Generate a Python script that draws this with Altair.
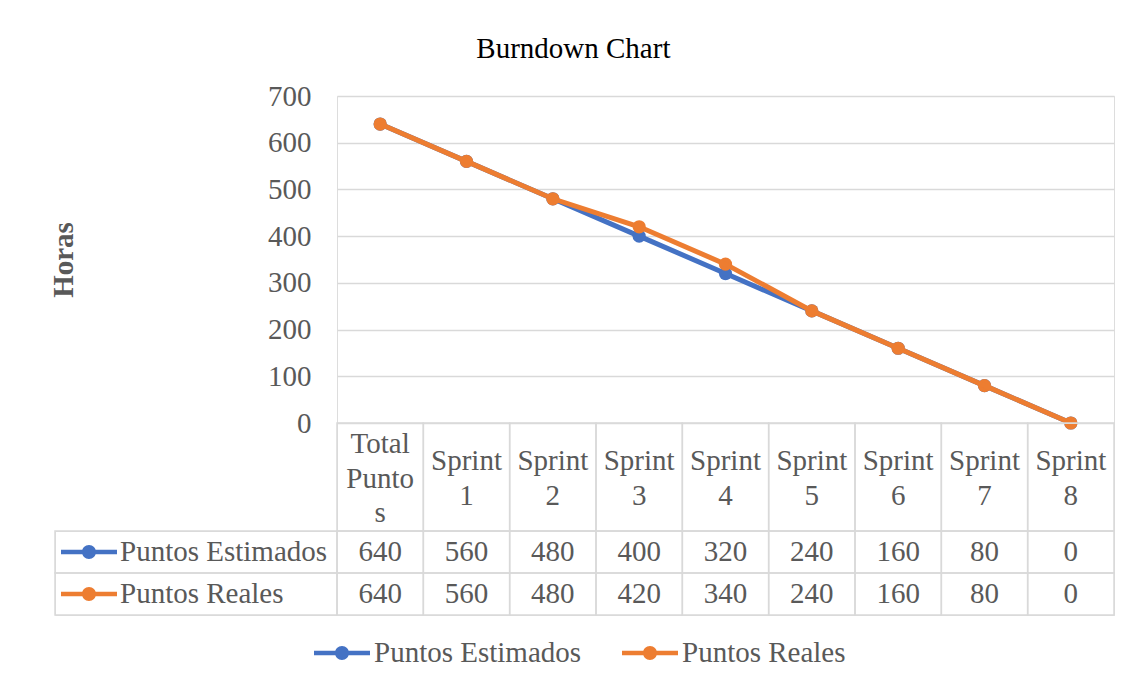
import altair as alt
import pandas as pd

# ---------------- data ----------------
categories = ["Total Puntos", "Sprint 1", "Sprint 2", "Sprint 3", "Sprint 4",
              "Sprint 5", "Sprint 6", "Sprint 7", "Sprint 8"]
header_labels = ["Total\nPunto\ns", "Sprint\n1", "Sprint\n2", "Sprint\n3", "Sprint\n4",
                 "Sprint\n5", "Sprint\n6", "Sprint\n7", "Sprint\n8"]
estimados = [640, 560, 480, 400, 320, 240, 160, 80, 0]
reales = [640, 560, 480, 420, 340, 240, 160, 80, 0]
series_names = ["Puntos Estimados", "Puntos Reales"]
series_colors = ["#4472C4", "#ED7D31"]
y_ticks = [0, 100, 200, 300, 400, 500, 600, 700]

records = []
for name, vals in zip(series_names, [estimados, reales]):
    for c, v in zip(categories, vals):
        records.append({"cat": c, "serie": name, "valor": v})
df = pd.DataFrame(records)
hdr = pd.DataFrame({"cat": categories, "label": header_labels})
ser = pd.DataFrame({"serie": series_names})

# ---------------- style ----------------
FONT = "Liberation Serif"
GRAY = "#595959"
GRID = "#d9d9d9"
FS = 29
LH = 34.5
PLOT_W, PLOT_H = 777, 327
LEG_W = 282
HDR_H = 108
ROWS_H = 84
# line-with-marker symbol (filled bar + circle), unit coordinates
SYM = ("M-1,-0.08L1,-0.08L1,0.08L-1,0.08Z "
       "M0.25,0C0.25,0.138 0.138,0.25 0,0.25C-0.138,0.25 -0.25,0.138 -0.25,0"
       "C-0.25,-0.138 -0.138,-0.25 0,-0.25C0.138,-0.25 0.25,-0.138 0.25,0Z")

color_scale = alt.Scale(domain=series_names, range=series_colors)

legend = alt.Legend(
    orient="none", legendX=259, legendY=529, direction="horizontal", title=None,
    symbolType=SYM, symbolSize=3136, symbolStrokeWidth=0, symbolOpacity=1,
    labelFont=FONT, labelFontSize=FS, labelColor=GRAY, labelOffset=4,
    columnPadding=40, padding=0, labelLimit=400,
)
color_enc = alt.Color("serie:N", sort=series_names, scale=color_scale, legend=legend)

x_plot = alt.X("cat:N", sort=categories, scale=alt.Scale(type="point", padding=0.5), axis=None)
y_plot = alt.Y("valor:Q", scale=alt.Scale(domain=[0, 700], nice=False),
               axis=alt.Axis(values=y_ticks, title="Horas", titleFont=FONT, titleFontSize=FS,
                             titleFontWeight="bold", titleColor=GRAY, titleX=-265, titleY=163.5,
                             titleBaseline="alphabetic", titleAngle=270,
                             labelFont=FONT, labelFontSize=FS, labelColor=GRAY, labelPadding=26,
                             ticks=False, domain=False, grid=True, gridColor=GRID, gridWidth=1.5))

plot_layers = []
for name in series_names:
    b = alt.Chart(df).transform_filter(alt.datum.serie == name).encode(
        x=x_plot, y=y_plot, color=color_enc)
    plot_layers.append(b.mark_point(filled=True, size=175, opacity=1))
    plot_layers.append(b.mark_line(strokeWidth=5))
plot = alt.layer(*plot_layers).properties(width=PLOT_W, height=PLOT_H)

# ---------------- data table ----------------
x_band = alt.X("cat:N", sort=categories,
               scale=alt.Scale(type="band", paddingInner=0, paddingOuter=0), axis=None)
x_band_c = alt.X("cat:N", sort=categories,
                 scale=alt.Scale(type="band", paddingInner=0, paddingOuter=0), axis=None,
                 bandPosition=0.5)
y_row = alt.Y("serie:N", sort=series_names,
              scale=alt.Scale(type="band", paddingInner=0, paddingOuter=0), axis=None)

hdr_base = alt.Chart(hdr).transform_calculate(
    nlines="length(split(datum.label, '\\n'))")
header_layers = [
    alt.Chart(hdr).mark_rect(fillOpacity=0, stroke=GRID, strokeWidth=1.5).encode(x=x_band)]
for n in (2, 3):
    header_layers.append(
        hdr_base.transform_filter(alt.datum.nlines == n).mark_text(
            font=FONT, fontSize=FS, color=GRAY, lineBreak="\n", lineHeight=LH,
            baseline="middle", dy=1.5 - (n - 1) * LH / 2,
        ).encode(x=x_band_c, text="label:N"))
header = alt.layer(*header_layers).properties(width=PLOT_W, height=HDR_H)

rows_chart = alt.layer(
    alt.Chart(df).mark_rect(fillOpacity=0, stroke=GRID, strokeWidth=1.5).encode(x=x_band, y=y_row),
    alt.Chart(df).mark_text(font=FONT, fontSize=FS, color=GRAY, baseline="middle").encode(
        x=x_band_c, y=y_row, text="valor:Q"),
).properties(width=PLOT_W, height=ROWS_H)

fill_scale = alt.Scale(domain=series_names, range=series_colors)
legcol = alt.layer(
    alt.Chart(ser).mark_rect(fillOpacity=0, stroke=GRID, strokeWidth=1.5).encode(y=y_row),
    alt.Chart(ser).mark_point(shape=SYM, size=3136, filled=True, strokeWidth=0, opacity=1).encode(
        x=alt.value(34), y=y_row,
        fill=alt.Fill("serie:N", scale=fill_scale, legend=None)),
    alt.Chart(ser).mark_text(font=FONT, fontSize=FS, color=GRAY, align="left", baseline="middle").encode(
        x=alt.value(65), y=y_row, text="serie:N"),
).properties(width=LEG_W, height=ROWS_H)

spacer_top = alt.Chart(ser).mark_text(text=" ").properties(width=LEG_W, height=PLOT_H)
spacer_hdr = alt.Chart(ser).mark_text(text=" ").properties(width=LEG_W, height=HDR_H)

chart = alt.concat(
    spacer_top, plot, spacer_hdr, header, legcol, rows_chart,
    columns=2, spacing=0, bounds="flush",
).properties(
    title=alt.TitleParams("Burndown Chart", font=FONT, fontSize=FS, fontWeight="normal",
                          color="black", anchor="middle", dx=-8.5, offset=18),
    padding={"left": 48, "top": 34, "right": 5, "bottom": 5},
).configure_view(stroke="transparent").configure(background="white")

chart.save("out.html", embed_options={"renderer": "svg", "actions": False})
